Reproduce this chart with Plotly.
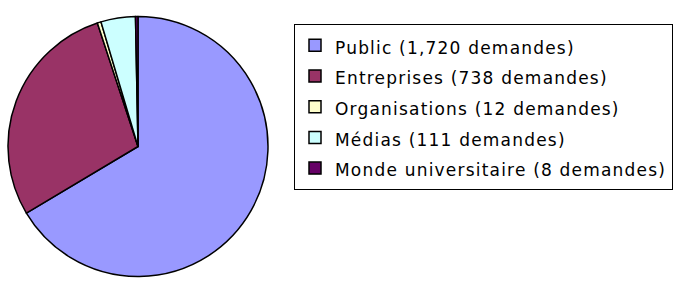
import plotly.graph_objects as go

labels = ["Public (1,720 demandes)", "Entreprises (738 demandes)", "Organisations (12 demandes)",
          "Médias (111 demandes)", "Monde universitaire (8 demandes)"]
values = [1720, 738, 12, 111, 8]
colors = ["#9999FF", "#993366", "#FFFFCC", "#CCFFFF", "#660066"]

W, H = 697, 292
legend_labels = [f"<span style='font-size:17px;letter-spacing:1.2px'>{l}</span>" for l in labels]

fig = go.Figure(go.Pie(
    labels=legend_labels, values=values, sort=False, direction="clockwise", rotation=0,
    textinfo="none", hoverinfo="label+value",
    marker=dict(colors=colors, line=dict(color="black", width=1.5)),
    domain=dict(x=[8 / W, 268 / W], y=[(H - 277) / H, (H - 16) / H]),
))
fig.update_layout(
    width=W, height=H, margin=dict(l=0, r=0, t=0, b=0),
    paper_bgcolor="white", plot_bgcolor="white",
    showlegend=True,
    legend=dict(x=294 / W, y=1 - 24 / H, xanchor="left", yanchor="top",
                bordercolor="black", borderwidth=1, bgcolor="white",
                font=dict(family="DejaVu Sans", size=21.3, color="black")),
)
fig.write_html("out.html")
